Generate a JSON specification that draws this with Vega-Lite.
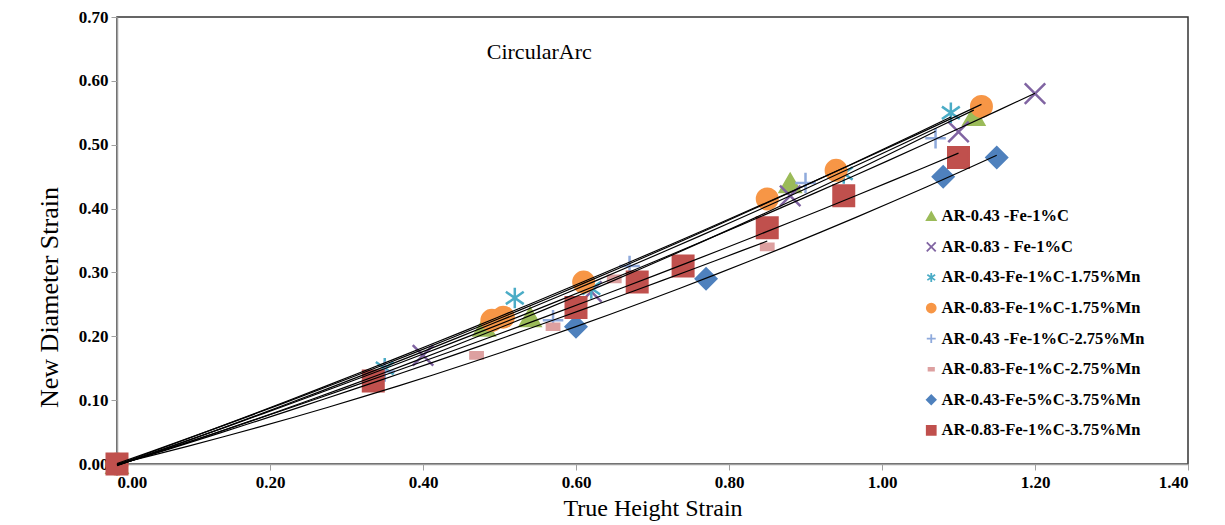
{
  "$schema": "https://vega.github.io/schema/vega-lite/v6.json",
  "width": 1071,
  "height": 447,
  "autosize": {"type": "none"},
  "padding": {"left": 117, "top": 17, "right": 37, "bottom": 61},
  "background": "white",
  "config": {"view": {"stroke": "#333333", "strokeWidth": 1.5}, "font": "Liberation Serif"},
  "data": {
    "values": [
      {"s": "AR-0.43 -Fe-1%C", "x": 0, "y": 0},
      {"s": "AR-0.43 -Fe-1%C", "x": 0.48, "y": 0.215},
      {"s": "AR-0.43 -Fe-1%C", "x": 0.54, "y": 0.23},
      {"s": "AR-0.43 -Fe-1%C", "x": 0.88, "y": 0.44},
      {"s": "AR-0.43 -Fe-1%C", "x": 1.12, "y": 0.545},
      {"s": "AR-0.83 - Fe-1%C", "x": 0, "y": 0},
      {"s": "AR-0.83 - Fe-1%C", "x": 0.40, "y": 0.17},
      {"s": "AR-0.83 - Fe-1%C", "x": 0.62, "y": 0.27},
      {"s": "AR-0.83 - Fe-1%C", "x": 0.88, "y": 0.42},
      {"s": "AR-0.83 - Fe-1%C", "x": 1.10, "y": 0.52},
      {"s": "AR-0.83 - Fe-1%C", "x": 1.20, "y": 0.58},
      {"s": "AR-0.43-Fe-1%C-1.75%Mn", "x": 0, "y": 0},
      {"s": "AR-0.43-Fe-1%C-1.75%Mn", "x": 0.35, "y": 0.15},
      {"s": "AR-0.43-Fe-1%C-1.75%Mn", "x": 0.52, "y": 0.26},
      {"s": "AR-0.43-Fe-1%C-1.75%Mn", "x": 0.62, "y": 0.275},
      {"s": "AR-0.43-Fe-1%C-1.75%Mn", "x": 0.95, "y": 0.455},
      {"s": "AR-0.43-Fe-1%C-1.75%Mn", "x": 1.09, "y": 0.55},
      {"s": "AR-0.83-Fe-1%C-1.75%Mn", "x": 0, "y": 0},
      {"s": "AR-0.83-Fe-1%C-1.75%Mn", "x": 0.49, "y": 0.225},
      {"s": "AR-0.83-Fe-1%C-1.75%Mn", "x": 0.505, "y": 0.23},
      {"s": "AR-0.83-Fe-1%C-1.75%Mn", "x": 0.61, "y": 0.285},
      {"s": "AR-0.83-Fe-1%C-1.75%Mn", "x": 0.85, "y": 0.415},
      {"s": "AR-0.83-Fe-1%C-1.75%Mn", "x": 0.94, "y": 0.46},
      {"s": "AR-0.83-Fe-1%C-1.75%Mn", "x": 1.13, "y": 0.56},
      {"s": "AR-0.43 -Fe-1%C-2.75%Mn", "x": 0, "y": 0},
      {"s": "AR-0.43 -Fe-1%C-2.75%Mn", "x": 0.35, "y": 0.145},
      {"s": "AR-0.43 -Fe-1%C-2.75%Mn", "x": 0.57, "y": 0.225},
      {"s": "AR-0.43 -Fe-1%C-2.75%Mn", "x": 0.67, "y": 0.31},
      {"s": "AR-0.43 -Fe-1%C-2.75%Mn", "x": 0.90, "y": 0.44},
      {"s": "AR-0.43 -Fe-1%C-2.75%Mn", "x": 1.07, "y": 0.51},
      {"s": "AR-0.83-Fe-1%C-2.75%Mn", "x": 0, "y": 0},
      {"s": "AR-0.83-Fe-1%C-2.75%Mn", "x": 0.47, "y": 0.17},
      {"s": "AR-0.83-Fe-1%C-2.75%Mn", "x": 0.57, "y": 0.215},
      {"s": "AR-0.83-Fe-1%C-2.75%Mn", "x": 0.65, "y": 0.29},
      {"s": "AR-0.83-Fe-1%C-2.75%Mn", "x": 0.85, "y": 0.34},
      {"s": "AR-0.43-Fe-5%C-3.75%Mn", "x": 0, "y": 0},
      {"s": "AR-0.43-Fe-5%C-3.75%Mn", "x": 0.60, "y": 0.215},
      {"s": "AR-0.43-Fe-5%C-3.75%Mn", "x": 0.77, "y": 0.29},
      {"s": "AR-0.43-Fe-5%C-3.75%Mn", "x": 1.08, "y": 0.45},
      {"s": "AR-0.43-Fe-5%C-3.75%Mn", "x": 1.15, "y": 0.48},
      {"s": "AR-0.83-Fe-1%C-3.75%Mn", "x": 0, "y": 0},
      {"s": "AR-0.83-Fe-1%C-3.75%Mn", "x": 0.335, "y": 0.13},
      {"s": "AR-0.83-Fe-1%C-3.75%Mn", "x": 0.60, "y": 0.245},
      {"s": "AR-0.83-Fe-1%C-3.75%Mn", "x": 0.68, "y": 0.285},
      {"s": "AR-0.83-Fe-1%C-3.75%Mn", "x": 0.74, "y": 0.31},
      {"s": "AR-0.83-Fe-1%C-3.75%Mn", "x": 0.85, "y": 0.37},
      {"s": "AR-0.83-Fe-1%C-3.75%Mn", "x": 0.95, "y": 0.42},
      {"s": "AR-0.83-Fe-1%C-3.75%Mn", "x": 1.10, "y": 0.48}
    ]
  },
  "layer": [
    {
      "mark": {"type": "point", "filled": true, "opacity": 1, "size": 420, "strokeWidth": 2.5},
      "encoding": {
        "x": {
          "field": "x", "type": "quantitative",
          "scale": {"domain": [0, 1.4], "nice": false, "zero": false},
          "axis": {
            "title": "True Height Strain", "titleFont": "Liberation Serif", "titleFontSize": 24,
            "titleFontWeight": "normal", "titleColor": "black", "titlePadding": 6,
            "labelFont": "Liberation Serif", "labelFontWeight": "bold", "labelFontSize": 17,
            "labelColor": "black", "format": ".2f", "values": [0, 0.2, 0.4, 0.6, 0.8, 1.0, 1.2, 1.4],
            "grid": false, "domainColor": "#a0a0a0", "domainWidth": 1.5, "tickColor": "#a0a0a0",
            "tickSize": 6, "labelPadding": 4
          }
        },
        "y": {
          "field": "y", "type": "quantitative",
          "scale": {"domain": [0, 0.7], "nice": false},
          "axis": {
            "title": "New Diameter Strain", "titleFont": "Liberation Serif", "titleFontSize": 26,
            "titleFontWeight": "normal", "titleColor": "black", "titlePadding": 16, "titleY": 280,
            "labelFont": "Liberation Serif", "labelFontWeight": "bold", "labelFontSize": 17,
            "labelColor": "black", "format": ".2f", "values": [0, 0.1, 0.2, 0.3, 0.4, 0.5, 0.6, 0.7],
            "grid": false, "domainColor": "#a0a0a0", "domainWidth": 1.5, "tickColor": "#a0a0a0",
            "tickSize": 6, "labelPadding": 3
          }
        },
        "color": {
          "field": "s", "type": "nominal",
          "scale": {
            "domain": ["AR-0.43 -Fe-1%C", "AR-0.83 - Fe-1%C", "AR-0.43-Fe-1%C-1.75%Mn", "AR-0.83-Fe-1%C-1.75%Mn", "AR-0.43 -Fe-1%C-2.75%Mn", "AR-0.83-Fe-1%C-2.75%Mn", "AR-0.43-Fe-5%C-3.75%Mn", "AR-0.83-Fe-1%C-3.75%Mn"],
            "range": ["#9BBB59", "#8064A2", "#4BACC6", "#F79646", "#8FAADC", "#DDA0A0", "#4F81BD", "#C0504D"]
          },
          "legend": {
            "orient": "none", "legendX": 806, "legendY": 191, "title": null,
            "labelFont": "Liberation Serif", "labelFontSize": 16.5, "labelFontWeight": "bold",
            "labelColor": "black", "rowPadding": 13.6, "symbolSize": 80, "symbolStrokeWidth": 1.8,
            "labelOffset": 2, "labelLimit": 400
          }
        },
        "stroke": {
          "field": "s", "type": "nominal",
          "scale": {
            "domain": ["AR-0.43 -Fe-1%C", "AR-0.83 - Fe-1%C", "AR-0.43-Fe-1%C-1.75%Mn", "AR-0.83-Fe-1%C-1.75%Mn", "AR-0.43 -Fe-1%C-2.75%Mn", "AR-0.83-Fe-1%C-2.75%Mn", "AR-0.43-Fe-5%C-3.75%Mn", "AR-0.83-Fe-1%C-3.75%Mn"],
            "range": ["#9BBB59", "#8064A2", "#4BACC6", "#F79646", "#8FAADC", "#DDA0A0", "#4F81BD", "#C0504D"]
          }
        },
        "shape": {
          "field": "s", "type": "nominal",
          "scale": {
            "domain": ["AR-0.43 -Fe-1%C", "AR-0.83 - Fe-1%C", "AR-0.43-Fe-1%C-1.75%Mn", "AR-0.83-Fe-1%C-1.75%Mn", "AR-0.43 -Fe-1%C-2.75%Mn", "AR-0.83-Fe-1%C-2.75%Mn", "AR-0.43-Fe-5%C-3.75%Mn", "AR-0.83-Fe-1%C-3.75%Mn"],
            "range": ["triangle-up", "M-1,-1L1,1M-1,1L1,-1", "M0,-1L0,1M-0.87,-0.6L0.87,0.6M-0.87,0.6L0.87,-0.6", "circle", "M-1,0L1,0M0,-1L0,1", "M-0.6,-0.3L0.6,-0.3L0.6,0.3L-0.6,0.3Z", "diamond", "square"]
          }
        }
      }
    },
    {
      "transform": [{"regression": "y", "on": "x", "groupby": ["s"], "method": "quad"}],
      "mark": {"type": "line", "color": "black", "strokeWidth": 1.2},
      "encoding": {
        "x": {"field": "x", "type": "quantitative"},
        "y": {"field": "y", "type": "quantitative"},
        "detail": {"field": "s", "type": "nominal"}
      }
    },
    {
      "data": {"values": [{"label": "CircularArc"}]},
      "mark": {"type": "text", "font": "Liberation Serif", "fontSize": 22, "color": "black"},
      "encoding": {
        "x": {"datum": 0.552, "type": "quantitative"},
        "y": {"datum": 0.645, "type": "quantitative"},
        "text": {"field": "label", "type": "nominal"}
      }
    }
  ]
}
